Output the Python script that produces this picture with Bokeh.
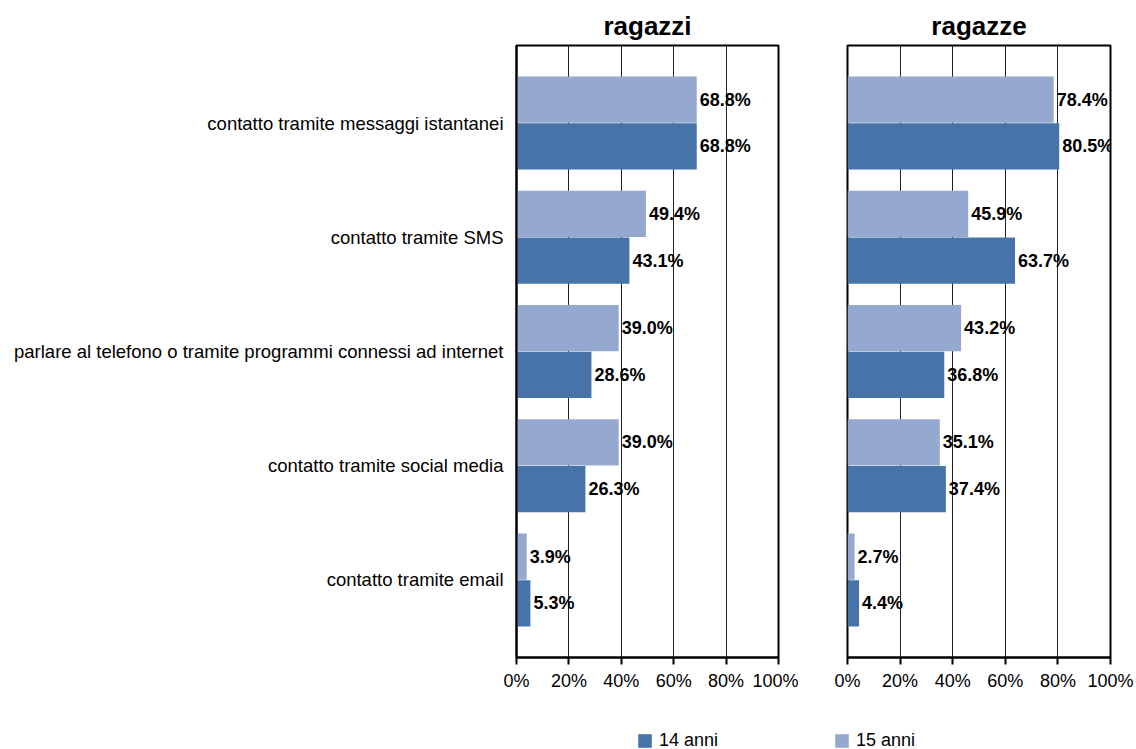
from bokeh.plotting import figure
from bokeh.models import FactorRange, Range1d, Legend, LegendItem, ColumnDataSource, LabelSet, FixedTicker
from bokeh.transform import dodge
from bokeh.layouts import column, row
from bokeh.embed import file_html
from bokeh.resources import INLINE
from bokeh.core.properties import value

categories = [
    "contatto tramite messaggi istantanei",
    "contatto tramite SMS",
    "parlare al telefono o tramite programmi connessi ad internet",
    "contatto tramite social media",
    "contatto tramite email",
]
ragazzi_14 = [68.8, 43.1, 28.6, 26.3, 5.3]
ragazzi_15 = [68.8, 49.4, 39.0, 39.0, 3.9]
ragazze_14 = [80.5, 63.7, 36.8, 37.4, 4.4]
ragazze_15 = [78.4, 45.9, 43.2, 35.1, 2.7]
panel_titles = ["ragazzi", "ragazze"]
series_labels = ["14 anni", "15 anni"]
x_ticks = [0, 20, 40, 60, 80, 100]

C14 = "#4674A9"
C15 = "#95A9D0"
FONT = "Liberation Sans"


def make_panel(title, v14, v15, show_labels, width, bl, br):
    yr = FactorRange(factors=list(reversed(categories)), range_padding=0.1785,
                     range_padding_units="absolute")
    p = figure(width=width, height=700, y_range=yr, x_range=Range1d(0, 100),
               output_backend="svg", toolbar_location=None, title=title,
               min_border_left=bl, min_border_right=br, min_border_top=45,
               min_border_bottom=43)
    p.title.text_font = FONT
    p.title.text_font_size = "26px"
    p.title.text_font_style = "bold"
    p.title.align = "center"
    p.title.text_color = "black"
    src = ColumnDataSource(dict(
        cat=categories, v14=v14, v15=v15,
        l14=[f"{v:.1f}%" for v in v14], l15=[f"{v:.1f}%" for v in v15]))
    p.hbar(y=dodge("cat", 0.205, range=yr), left=0, right="v15", height=0.405,
           source=src, fill_color=C15, line_color=None)
    p.hbar(y=dodge("cat", -0.205, range=yr), left=0, right="v14", height=0.405,
           source=src, fill_color=C14, line_color=None)
    for col, lab, off in (("v15", "l15", 0.205), ("v14", "l14", -0.205)):
        ls = LabelSet(x=col, y=dodge("cat", off, range=yr), text=lab, source=src,
                      x_offset=3, text_align="left", text_baseline="middle",
                      text_font=value(FONT), text_font_size=value("18px"),
                      text_font_style="bold", text_color="black")
        p.add_layout(ls)
    p.outline_line_color = "black"
    p.outline_line_width = 2
    p.ygrid.grid_line_color = None
    p.xgrid.grid_line_color = "#222222"
    p.xgrid.grid_line_width = 1
    p.xaxis.ticker = FixedTicker(ticks=x_ticks)
    p.xaxis.major_label_overrides = {t: f"{t}%" for t in x_ticks}
    p.xaxis.major_label_text_font = FONT
    p.xaxis.major_label_text_font_size = "18px"
    p.xaxis.major_label_text_color = "black"
    p.xaxis.axis_line_color = "black"
    p.xaxis.axis_line_width = 2
    p.xaxis.major_tick_line_color = "black"
    p.xaxis.major_tick_line_width = 2
    p.xaxis.major_tick_in = 0
    p.xaxis.major_tick_out = 7
    p.xaxis.minor_tick_line_color = None
    p.xaxis.major_label_standoff = 6
    if show_labels:
        p.yaxis.major_label_text_font = FONT
        p.yaxis.major_label_text_font_size = "18.5px"
        p.yaxis.major_label_text_color = "black"
        p.yaxis.major_tick_line_color = None
        p.yaxis.axis_line_color = "black"
        p.yaxis.axis_line_width = 2
        p.yaxis.major_label_standoff = 7
    else:
        p.yaxis.visible = False
    return p


p1 = make_panel(panel_titles[0], ragazzi_14, ragazzi_15, True, 798, 516, 20)
p2 = make_panel(panel_titles[1], ragazze_14, ragazze_15, False, 336, 49, 24)

leg = figure(width=1134, height=49, output_backend="svg", toolbar_location=None,
             x_range=Range1d(0, 1), y_range=Range1d(0, 1),
             min_border=0)
leg.axis.visible = False
leg.grid.visible = False
leg.outline_line_color = None
r14 = leg.hbar(y=[-10], right=[1], height=1, fill_color=C14, line_color=None)
r15 = leg.hbar(y=[-10], right=[1], height=1, fill_color=C15, line_color=None)
legend = Legend(items=[LegendItem(label=series_labels[0], renderers=[r14]),
                       LegendItem(label=series_labels[1], renderers=[r15])],
                orientation="horizontal", location=(636, -2),
                glyph_width=17, glyph_height=17, label_standoff=6, spacing=115,
                padding=0, margin=0, border_line_color=None,
                background_fill_alpha=0, label_text_font=FONT,
                label_text_font_size="18px", label_text_color="black")
leg.add_layout(legend, "center")

layout = column(row(p1, p2), leg)
open("out.html", "w").write(file_html(layout, INLINE))
